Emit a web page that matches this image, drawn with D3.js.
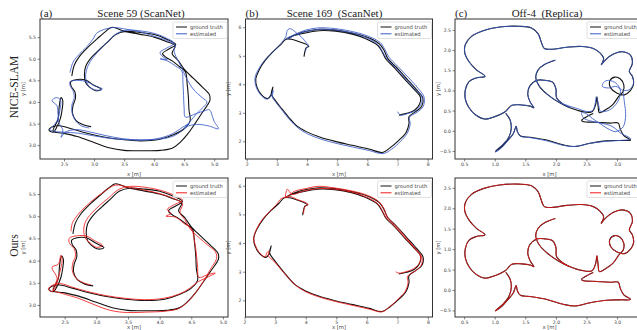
<!DOCTYPE html>
<html>
<head>
<meta charset="utf-8">
<script src="https://cdn.jsdelivr.net/npm/d3@7"></script>
<style>
  body { margin: 0; background: #fff; }
  svg { display: block; }
</style>
</head>
<body>
<div id="chart"></div>
<script>
// ---- trajectories (x, y in metres) ----
const scene59Truth = [
  [2.95,3.43],[2.82,3.47],[2.7,3.57],[2.64,3.74],[2.65,3.92],[2.69,4.08],[2.68,4.24],[2.62,4.36],[2.61,4.46],
  [2.72,4.52],[2.87,4.5],[2.98,4.4],[3.12,4.29],[3.03,4.26],[2.92,4.35],[2.86,4.45],[2.84,4.62],[2.86,4.82],
  [2.95,5.02],[3.08,5.2],[3.22,5.38],[3.36,5.56],[3.52,5.63],[3.76,5.61],[4.0,5.56],[4.2,5.46],[4.36,5.33],
  [4.24,5.22],[4.14,5.12],[4.2,5.03],[4.3,4.95],[4.42,4.82],[4.52,4.7],[4.55,4.42],[4.57,4.12],[4.58,3.82],
  [4.6,3.56],[4.5,3.38],[4.32,3.24],[4.08,3.13],[3.78,3.1],[3.46,3.13],[3.16,3.19],[2.9,3.27],[2.62,3.38],
  [2.42,3.45],[2.3,3.42],[2.25,3.35],[2.32,3.3],[2.38,3.42],[2.44,3.62],[2.47,3.84],[2.48,4.02],[2.45,4.1],
  [2.42,3.9],[2.4,3.6],[2.32,3.32],[2.48,3.28],[2.72,3.2],[3.0,3.06],[3.25,2.94],[3.5,2.88],[3.8,2.87],
  [4.1,2.88],[4.3,2.93],[4.43,3.06],[4.56,3.26],[4.68,3.5],[4.8,3.75],[4.93,4.04],[4.92,4.17],[4.8,4.35],
  [4.65,4.55],[4.5,4.76],[4.4,4.96],[4.3,5.12],[4.35,5.3],[4.2,5.4],[4.0,5.5],[3.75,5.57],[3.5,5.64],
  [3.3,5.73],[3.2,5.64],[3.05,5.46],[2.9,5.27],[2.76,5.06],[2.67,4.85],[2.63,4.6]
];
const scene59Nice = [
  [2.92,3.4],[2.8,3.44],[2.7,3.55],[2.64,3.72],[2.63,3.92],[2.67,4.1],[2.65,4.26],[2.6,4.38],[2.6,4.47],
  [2.73,4.5],[2.88,4.47],[3.0,4.38],[3.14,4.3],[3.06,4.27],[2.94,4.33],[2.88,4.44],[2.86,4.62],[2.9,4.84],
  [2.99,5.04],[3.12,5.24],[3.26,5.44],[3.4,5.6],[3.56,5.66],[3.8,5.64],[4.02,5.58],[4.2,5.48],[4.33,5.36],
  [4.2,5.24],[4.1,5.15],[4.14,5.05],[4.22,4.98],[4.1,5.0],[4.22,4.95],[4.36,4.83],[4.46,4.72],[4.48,4.45],
  [4.49,4.15],[4.5,3.85],[4.52,3.65],[4.68,3.72],[4.85,3.8],[4.92,3.82],[5.0,3.55],[5.07,3.38],[4.92,3.44],
  [4.75,3.48],[4.58,3.45],[4.5,3.38],[4.58,3.5],[4.48,3.42],[4.3,3.26],[4.05,3.15],[3.78,3.12],[3.48,3.15],
  [3.2,3.22],[2.95,3.3],[2.7,3.36],[2.52,3.3],[2.45,3.18],[2.48,3.35],[2.42,3.5],[2.4,3.72],[2.38,3.92],
  [2.3,4.03],[2.37,4.1],[2.44,4.05],[2.43,3.8],[2.38,3.55],[2.3,3.42],[2.26,3.36],[2.34,3.32],[2.5,3.3],
  [2.72,3.28],[2.98,3.22],[3.25,3.16],[3.5,3.13],[3.8,3.12],[4.08,3.14],[4.3,3.2],[4.45,3.32],[4.6,3.55],
  [4.7,3.72],[4.82,3.88],[4.88,4.0],[4.8,4.1],[4.65,4.3],[4.52,4.6],[4.45,4.82],[4.38,5.0],[4.33,5.2],
  [4.35,5.32],[4.22,5.42],[4.0,5.52],[3.78,5.62],[3.55,5.68],[3.3,5.72],[3.05,5.6],[2.98,5.45],[2.88,5.28],
  [2.75,5.1],[2.65,4.92],[2.6,4.68]
];
const scene59Ours = [
  [2.92,3.45],[2.8,3.5],[2.68,3.6],[2.62,3.78],[2.63,3.95],[2.67,4.1],[2.65,4.27],[2.58,4.38],[2.57,4.5],
  [2.7,4.56],[2.85,4.55],[2.97,4.45],[3.1,4.34],[3.0,4.3],[2.9,4.4],[2.83,4.5],[2.8,4.68],[2.83,4.88],
  [2.92,5.06],[3.05,5.24],[3.2,5.42],[3.35,5.6],[3.52,5.67],[3.78,5.65],[4.02,5.58],[4.22,5.48],[4.36,5.36],
  [4.22,5.25],[4.12,5.15],[4.18,5.06],[4.1,5.0],[4.25,4.98],[4.38,4.84],[4.5,4.72],[4.55,4.45],[4.58,4.15],
  [4.6,3.85],[4.62,3.62],[4.75,3.68],[4.88,3.72],[4.72,3.6],[4.6,3.52],[4.48,3.38],[4.3,3.24],[4.06,3.15],
  [3.76,3.12],[3.46,3.15],[3.16,3.21],[2.9,3.29],[2.62,3.4],[2.44,3.48],[2.3,3.44],[2.24,3.36],[2.3,3.3],
  [2.36,3.42],[2.4,3.62],[2.44,3.84],[2.46,4.02],[2.44,4.12],[2.4,3.92],[2.3,3.85],[2.38,3.6],[2.32,3.34],
  [2.46,3.26],[2.7,3.16],[2.98,3.0],[3.22,2.88],[3.48,2.83],[3.78,2.84],[4.08,2.86],[4.3,2.92],[4.45,3.08],
  [4.58,3.3],[4.7,3.55],[4.8,3.8],[4.9,4.05],[4.88,4.2],[4.76,4.35],[4.62,4.52],[4.48,4.72],[4.4,4.92],
  [4.32,5.08],[4.36,5.28],[4.22,5.4],[4.02,5.5],[3.78,5.58],[3.52,5.65],[3.3,5.7],[3.12,5.55],[2.96,5.38],
  [2.82,5.2],[2.7,5.02],[2.62,4.84],[2.6,4.66]
];

const scene169Truth = [
  [3.9,4.97],[3.93,5.15],[3.97,5.28],[4.06,5.33],[3.98,5.4],[3.72,5.5],[3.48,5.58],[3.3,5.58],[3.12,5.38],
  [2.85,5.12],[2.6,4.82],[2.42,4.52],[2.3,4.18],[2.34,3.9],[2.5,3.62],[2.7,3.5],[2.8,3.62],[2.87,3.9],
  [2.82,3.66],[2.96,3.42],[3.15,3.16],[3.38,2.86],[3.65,2.55],[3.98,2.34],[4.42,2.15],[4.96,1.99],[5.5,1.86],
  [6.05,1.73],[6.5,1.61],[6.75,1.77],[7.06,2.05],[7.28,2.3],[7.38,2.62],[7.38,2.86],[7.6,3.04],[7.8,3.22],
  [7.84,3.52],[7.62,3.82],[7.3,4.2],[6.96,4.6],[6.68,4.9],[6.55,5.2],[6.4,5.42],[5.98,5.66],[5.5,5.8],
  [4.96,5.9],[4.42,5.93],[3.98,5.86],[3.62,5.75],[3.35,5.6],[3.55,5.7],[3.95,5.8],[4.4,5.88],[4.95,5.86],
  [5.5,5.76],[5.95,5.6],[6.35,5.36],[6.5,5.12],[6.62,4.88],[6.9,4.58],[7.22,4.2],[7.55,3.82],[7.76,3.55],
  [7.72,3.28],[7.55,3.08],[7.3,2.98],[7.05,2.92]
];
const scene169Nice = [
  [3.95,5.15],[3.98,5.28],[4.05,5.35],[3.98,5.45],[3.85,5.62],[3.65,5.8],[3.45,5.95],[3.35,5.9],[3.3,5.68],
  [3.15,5.45],[2.9,5.18],[2.62,4.88],[2.42,4.58],[2.28,4.25],[2.3,3.95],[2.45,3.65],[2.65,3.48],[2.78,3.55],
  [2.88,3.78],[2.85,3.55],[2.98,3.35],[3.18,3.08],[3.42,2.76],[3.7,2.47],[4.02,2.26],[4.45,2.08],[5.0,1.92],
  [5.52,1.8],[6.05,1.68],[6.52,1.57],[6.8,1.72],[7.1,2.0],[7.32,2.28],[7.42,2.6],[7.4,2.85],[7.65,3.02],
  [7.85,3.22],[7.88,3.55],[7.68,3.86],[7.35,4.25],[7.0,4.64],[6.72,4.95],[6.58,5.22],[6.43,5.46],[6.0,5.7],
  [5.5,5.85],[4.95,5.95],[4.4,5.98],[3.95,5.9],[3.58,5.74],[3.3,5.6],[3.42,5.62],[3.65,5.75],[4.0,5.86],
  [4.42,5.93],[4.96,5.9],[5.5,5.8],[5.95,5.64],[6.35,5.4],[6.5,5.15],[6.64,4.9],[6.92,4.6],[7.25,4.22],
  [7.58,3.84],[7.8,3.58],[7.78,3.3],[7.6,3.08],[7.35,2.98],[7.1,2.92],[7.0,3.04]
];
const scene169Ours = [
  [3.93,5.02],[3.95,5.2],[4.0,5.3],[4.08,5.34],[3.98,5.42],[3.72,5.52],[3.5,5.62],[3.2,5.55],[3.05,5.35],
  [2.82,5.1],[2.58,4.82],[2.4,4.5],[2.3,4.18],[2.36,3.9],[2.52,3.62],[2.68,3.52],[2.72,3.65],[2.8,3.72],
  [2.78,3.55],[2.95,3.38],[3.16,3.12],[3.4,2.82],[3.68,2.52],[4.0,2.3],[4.44,2.12],[4.98,1.96],[5.52,1.83],
  [6.06,1.7],[6.5,1.6],[6.72,1.75],[7.02,2.04],[7.25,2.3],[7.35,2.62],[7.33,2.84],[7.58,3.02],[7.78,3.22],
  [7.8,3.5],[7.6,3.8],[7.28,4.2],[6.95,4.6],[6.68,4.9],[6.56,5.2],[6.4,5.44],[5.98,5.68],[5.5,5.82],
  [4.96,5.92],[4.42,5.98],[4.0,5.9],[3.62,5.8],[3.35,5.58],[3.4,5.88],[3.55,5.7],[3.95,5.82],[4.4,5.9],
  [4.95,5.88],[5.5,5.78],[5.95,5.62],[6.35,5.38],[6.5,5.15],[6.62,4.9],[6.9,4.6],[7.22,4.22],[7.55,3.84],
  [7.75,3.56],[7.72,3.3],[7.52,3.1],[7.28,3.0],[7.05,2.95],[6.95,3.0]
];

// Off-4 is drawn in three pieces
const off4Loop = [
  [1.99,1.75],[1.82,1.65],[1.71,1.51],[1.67,1.33],[1.73,1.10],[1.86,0.90],[2.04,0.71],[2.23,0.57],[2.42,0.48],
  [2.59,0.47],[2.65,0.65],[2.67,0.84],[2.69,0.61],[2.71,0.45],[2.81,0.52],[2.93,0.65],[3.03,0.86],[3.10,0.98],
  [3.11,1.14],[3.05,1.29],[2.96,1.33],[2.88,1.23],[2.90,1.05],[3.00,0.93],[3.12,0.89],[3.22,1.00],[3.27,1.16],
  [3.25,1.35],[3.20,1.47],[3.25,1.67],[3.22,1.87],[3.09,1.96],[2.94,1.90],[2.82,1.77],[2.74,1.63]
];
const off4Outer = [
  [2.74,1.63],[2.78,1.79],[2.72,1.93],[2.61,2.04],[2.42,2.09],[2.18,2.07],[1.93,2.02],[1.81,2.04],[1.76,2.20],
  [1.71,2.40],[1.60,2.55],[1.39,2.59],[1.08,2.57],[0.81,2.48],[0.62,2.34],[0.52,2.14],[0.51,1.93],[0.58,1.71],
  [0.70,1.51],[0.84,1.35],[0.70,1.31],[0.58,1.22],[0.52,1.02],[0.52,0.78],[0.58,0.57],[0.69,0.39],[0.84,0.29],
  [1.00,0.35],[1.17,0.47],[1.28,0.63],[1.44,0.64],[1.58,0.61],[1.64,0.57],[1.58,0.71],[1.54,0.90],[1.57,1.10],
  [1.69,1.25],[1.82,1.25],[1.95,1.20],[2.00,1.04],[2.01,0.82],[2.10,0.68],[2.23,0.57]
];
const off4Tail = [
  [1.18,0.43],[1.25,0.27],[1.27,0.06],[1.23,-0.16],[1.13,-0.35],[1.01,-0.51],[1.10,-0.42],[1.20,-0.26],
  [1.30,-0.08],[1.35,0.11],[1.37,-0.02],[1.42,-0.13],[1.58,-0.16],[1.85,-0.23],[2.12,-0.35],[2.31,-0.39],
  [2.56,-0.31],[2.83,-0.25],[3.05,-0.24],[3.22,-0.23],[3.11,-0.12],[3.05,0.05],[3.02,0.19],[2.89,0.19],
  [2.67,0.21],[2.44,0.23],[2.42,0.26],[2.53,0.37],[2.61,0.43]
];
const off4NiceLoop = [
  [1.99,1.75],[1.82,1.65],[1.71,1.51],[1.67,1.33],[1.73,1.10],[1.86,0.90],[2.04,0.72],[2.2,0.62],[2.35,0.55],
  [2.5,0.48],[2.6,0.5],[2.64,0.66],[2.66,0.84],[2.7,0.62],[2.73,0.48],[2.85,0.5],[2.95,0.6],[3.04,0.82],
  [3.05,1.02],[2.98,1.18],[2.86,1.25],[2.78,1.2],[2.76,1.1],[2.86,1.06],[2.98,1.1],[3.1,1.0],[3.2,1.02],
  [3.27,1.18],[3.25,1.35],[3.2,1.47],[3.25,1.67],[3.22,1.87],[3.09,1.96],[2.94,1.9],[2.82,1.77],[2.74,1.63]
];
const off4NiceTail = [
  [1.18,0.43],[1.25,0.27],[1.27,0.06],[1.23,-0.16],[1.13,-0.35],[1.01,-0.53],[1.1,-0.44],[1.2,-0.27],
  [1.3,-0.08],[1.35,0.11],[1.37,-0.02],[1.42,-0.13],[1.58,-0.17],[1.85,-0.25],[2.12,-0.36],[2.31,-0.39],
  [2.56,-0.31],[2.83,-0.26],[3.05,-0.24],[3.22,-0.2],[3.05,-0.05],[2.95,0.08],[2.85,0.15],[2.7,0.2],
  [2.55,0.25],[2.45,0.32],[2.42,0.45],[2.5,0.42],[2.6,0.3],[2.72,0.18],[2.85,0.05],[2.98,-0.02],[3.1,0.1],
  [3.14,0.4],[3.12,0.7],[3.1,0.95]
];
const off4Truth = [off4Loop, off4Outer, off4Tail];
const off4Nice = [off4NiceLoop, off4Outer, off4NiceTail];
const off4Ours = [off4Loop, off4Outer, off4Tail];

// ---- tick values ----
const ticks59X = [2.5, 3.0, 3.5, 4.0, 4.5, 5.0];
const ticks59Y = [3.0, 3.5, 4.0, 4.5, 5.0, 5.5];
const ticks169X = [2, 3, 4, 5, 6, 7, 8];
const ticks169Y = [2, 3, 4, 5, 6];
const ticksOff4X = [0.5, 1.0, 1.5, 2.0, 2.5, 3.0, 3.5];
const ticksOff4Y = [-0.5, 0.0, 0.5, 1.0, 1.5, 2.0, 2.5];

const titles = ['Scene 59 (ScanNet)', 'Scene 169  (ScanNet)', 'Off-4  (Replica)'];
const tags = ['(a)', '(b)', '(c)'];
const methods = ['NICE-SLAM', 'Ours'];
const legendNames = ['ground truth', 'estimated'];

// ---- layout ----
const W = 637, H = 330;
const cols = [{ x0: 40, x1: 228 }, { x0: 245.5, x1: 432.5 }, { x0: 455, x1: 644 }];
const rows = [{ y0: 19, y1: 159 }, { y0: 178, y1: 317 }];
const estColor = ['#3a5bc7', '#f21b1b'];

const panels = [
  { r: 0, c: 0, truth: [scene59Truth], est: [scene59Nice], xd: [2.1, 5.23], yd: [2.68, 5.92], xt: ticks59X, yt: ticks59Y, fmt: '.1f' },
  { r: 0, c: 1, truth: [scene169Truth], est: [scene169Nice], xd: [1.96, 8.16], yd: [1.38, 6.29], xt: ticks169X, yt: ticks169Y, fmt: 'd' },
  { r: 0, c: 2, truth: off4Truth, est: off4Nice, xd: [0.35, 3.44], yd: [-0.70, 2.77], xt: ticksOff4X, yt: ticksOff4Y, fmt: '.1f' },
  { r: 1, c: 0, truth: [scene59Truth], est: [scene59Ours], xd: [2.11, 5.08], yd: [2.73, 5.86], xt: ticks59X, yt: ticks59Y, fmt: '.1f' },
  { r: 1, c: 1, truth: [scene169Truth], est: [scene169Ours], xd: [2.03, 8.15], yd: [1.42, 6.27], xt: ticks169X, yt: ticks169Y, fmt: 'd' },
  { r: 1, c: 2, truth: off4Truth, est: off4Ours, xd: [0.35, 3.44], yd: [-0.66, 2.74], xt: ticksOff4X, yt: ticksOff4Y, fmt: '.1f' }
];

const svg = d3.select('#chart').append('svg')
  .attr('width', W).attr('height', H)
  .style('font-family', 'DejaVu Sans, sans-serif');

const defs = svg.append('defs');

panels.forEach((p, i) => {
  const { x0, x1 } = cols[p.c];
  const { y0, y1 } = rows[p.r];
  const x = d3.scaleLinear().domain(p.xd).range([x0, x1]);
  const y = d3.scaleLinear().domain(p.yd).range([y1, y0]);
  const g = svg.append('g');

  defs.append('clipPath').attr('id', 'clip' + i)
    .append('rect').attr('x', x0).attr('y', y0).attr('width', x1 - x0).attr('height', y1 - y0);

  const line = d3.line().x(d => x(d[0])).y(d => y(d[1])).curve(d3.curveCatmullRom.alpha(0.5));
  const plot = g.append('g').attr('clip-path', `url(#clip${i})`);

  plot.selectAll('.gt').data(p.truth).enter().append('path')
    .attr('d', line).attr('fill', 'none')
    .attr('stroke', '#111').attr('stroke-width', 1.1).attr('stroke-linejoin', 'round');
  plot.selectAll('.est').data(p.est).enter().append('path')
    .attr('d', line).attr('fill', 'none')
    .attr('stroke', estColor[p.r]).attr('stroke-width', 0.85).attr('stroke-linejoin', 'round');

  const f = d3.format(p.fmt);
  const xAxis = g.append('g').attr('transform', `translate(0,${y1})`)
    .call(d3.axisBottom(x).tickValues(p.xt).tickFormat(f).tickSize(2.5).tickPadding(1.5));
  const yAxis = g.append('g').attr('transform', `translate(${x0},0)`)
    .call(d3.axisLeft(y).tickValues(p.yt).tickFormat(f).tickSize(2.5).tickPadding(1.5));
  [xAxis, yAxis].forEach(a => {
    a.select('.domain').remove();
    a.selectAll('line').attr('stroke', '#333').attr('stroke-width', 0.6);
    a.selectAll('text').attr('fill', '#444').style('font-size', '4.6px').style('font-family', 'DejaVu Sans, sans-serif');
  });

  g.append('rect').attr('x', x0).attr('y', y0).attr('width', x1 - x0).attr('height', y1 - y0)
    .attr('fill', 'none').attr('stroke', '#333').attr('stroke-width', 1);

  // axis labels
  g.append('text').attr('x', (x0 + x1) / 2).attr('y', p.r === 0 ? y1 + 16.5 : y1 + 11.8)
    .attr('text-anchor', 'middle').attr('fill', '#444').style('font-size', '5.3px').text('x [m]');
  const ylx = x0 - 15.5;
  g.append('text').attr('transform', `translate(${ylx},${(y0 + y1) / 2}) rotate(-90)`)
    .attr('text-anchor', 'middle').attr('fill', '#444').style('font-size', '5.3px').text('y [m]');

  // legend
  const lx = (p.c === 2 ? x0 + 132 : x1 - 55), ly = y0 + 3;
  const lg = g.append('g');
  lg.append('rect').attr('x', lx).attr('y', ly).attr('width', 54).attr('height', 16.5).attr('rx', 1.5)
    .attr('fill', '#fff').attr('fill-opacity', 0.85).attr('stroke', '#ccc').attr('stroke-width', 0.6);
  legendNames.forEach((name, k) => {
    const yy = ly + 5 + k * 6.8;
    lg.append('line').attr('x1', lx + 3).attr('x2', lx + 14).attr('y1', yy).attr('y2', yy)
      .attr('stroke', k === 0 ? '#111' : estColor[p.r]).attr('stroke-width', 1);
    lg.append('text').attr('x', lx + 17).attr('y', yy + 1.8)
      .attr('fill', '#444').style('font-size', '5.2px').text(name);
  });
});

// titles and tags
cols.forEach((c, i) => {
  svg.append('text').attr('x', c.x0).attr('y', 16.5)
    .style('font-family', 'Liberation Serif, serif').style('font-size', '11px').attr('fill', '#222')
    .text(tags[i]);
});
const titleX = [141, 334.5, 547];
titles.forEach((t, i) => {
  svg.append('text').attr('x', titleX[i]).attr('y', 16.5).attr('text-anchor', 'middle')
    .style('font-family', 'Liberation Serif, serif').style('font-size', '11px').attr('fill', '#222')
    .style('white-space', 'pre').attr('xml:space', 'preserve')
    .text(t);
});
methods.forEach((m, i) => {
  const cy = (rows[i].y0 + rows[i].y1) / 2;
  svg.append('text').attr('transform', `translate(18,${cy - 2}) rotate(-90)`).attr('text-anchor', 'middle')
    .style('font-family', 'Liberation Serif, serif').style('font-size', '11.5px').attr('fill', '#222')
    .text(m);
});
</script>
</body>
</html>
